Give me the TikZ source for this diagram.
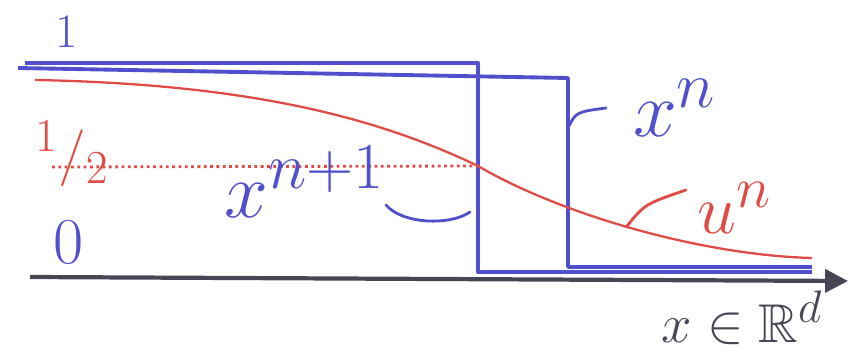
\documentclass[tikz,border=0pt]{standalone}
\usepackage{amsmath,amssymb}
\usetikzlibrary{arrows.meta,positioning}
\definecolor{penblue}{RGB}{80,80,205}
\definecolor{penred}{RGB}{225,75,70}
\definecolor{pengray}{RGB}{70,70,85}
\tikzset{
  stepline/.style={draw=penblue, line width=2.2pt, line join=round},
  lbl/.style={font=\Huge, text=#1, inner sep=1pt},
  lead/.style={draw=#1, line width=1.6pt, line cap=round},
}
\begin{document}
\begin{tikzpicture}[x=0.02cm,y=-0.02cm]
  \useasboundingbox (0,0) rectangle (855,358);
  % axis
  \coordinate (axstart) at (30,277);
  \coordinate (axend) at (848,281);
  \draw[pengray, line width=2.4pt, -{Triangle[length=13pt,width=13pt]}] (axstart) -- (axend);
  % x^{n+1} and x^n
  \draw[stepline] (25,63) -- (478,63) -- (478,272) -- (812,272);
  \draw[stepline] (18,68) -- (568,78) -- (568,267) -- (812,267);
  % u^n
  \coordinate (ustart) at (35,80);
  \coordinate (umid) at (478,166);
  \coordinate (uend) at (812,258);
  \draw[penred, line width=1.3pt]
    (ustart) .. controls (250,84) and (378,118) .. (umid)
             .. controls (560,214) and (700,255) .. (uend);
  % level 1/2
  \coordinate (hstart) at (52,167);
  \draw[penred, dotted, line width=1.6pt] (hstart) -- (umid);
  % labels
  \node[lbl=penblue, scale=1.1] (one) at (67,32) {$1$};
  \node[lbl=penred, scale=1.3] (half) at (72,154) {${}^{1}/{}_{2}$};
  \node[lbl=penblue, scale=1.5] (zero) at (69,242) {$0$};
  \node[lbl=penblue, scale=1.8] (xnp1) at (305,182) {$x^{n+1}$};
  \node[lbl=penblue, scale=1.8] (xn) at (675,108) {$x^{n}$};
  \node[lbl=penred, scale=1.6] (un) at (735,208) {$u^{n}$};
  \node[lbl=pengray, scale=1.25] (dom) at (742,318) {$x\in\mathbb{R}^{d}$};
  % leaders
  \coordinate (xnfoot) at (568,128);
  \coordinate (xntip) at (606,108);
  \draw[lead=penblue] (xnfoot) .. controls (576,112) .. (xntip);
  \coordinate (xnpfoot) at (470,212);
  \coordinate (xnptip) at (386,205);
  \draw[lead=penblue] (xnptip) .. controls (402,224) and (450,226) .. (xnpfoot);
  \coordinate (unfoot) at (627,226);
  \coordinate (untip) at (686,190);
  \draw[lead=penred] (unfoot) .. controls (645,204) .. (untip);
\end{tikzpicture}
\end{document}
